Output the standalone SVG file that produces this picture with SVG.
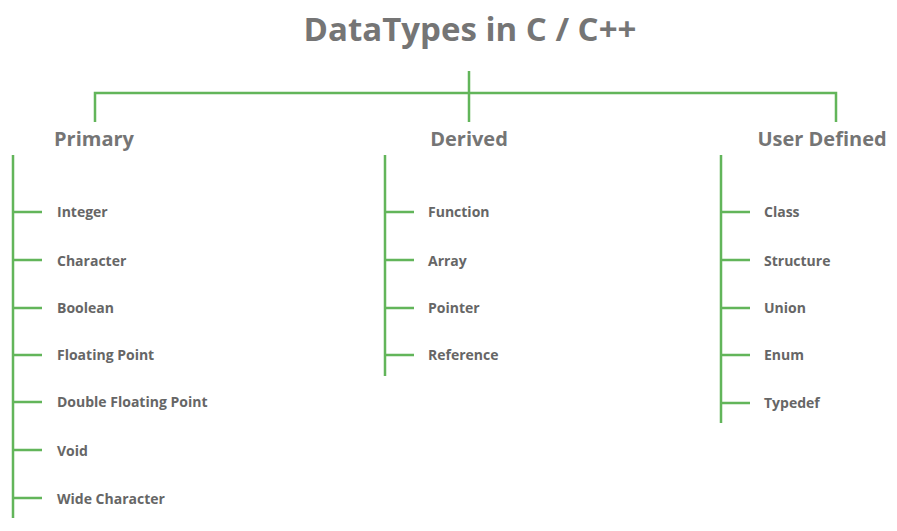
<svg xmlns="http://www.w3.org/2000/svg" width="897" height="531" viewBox="0 0 897 531">
<style>
.c{stroke:#62b55a;stroke-width:2.5;fill:none}
.t{font-family:"Open Sans","Noto Sans",sans-serif;font-weight:bold;fill:#757575}
.h{font-size:20px}
.i{font-size:14px;fill:#666}
</style>
<rect width="897" height="531" fill="#fff"/>
<text class="t" x="470" y="41" font-size="33" text-anchor="middle">DataTypes in C / C++</text>
<g id="connectors">
<path class="c" d="M469 71V93M95 122V93H836V122M469 93V122"/>
<path class="c" d="M13 155V518M13 212H42M13 260H42M13 308H42M13 355H42M13 402H42M13 450H42M13 498H42"/>
<path class="c" d="M385 155V376M385 212H414M385 260H414M385 308H414M385 355H414"/>
<path class="c" d="M721 155V423M721 212H750M721 260H750M721 308H750M721 355H750M721 403H750"/>
</g>
<g id="primary"><text class="t h" x="94" y="146" text-anchor="middle">Primary</text>
<text class="t i" x="57" y="217">Integer</text>
<text class="t i" x="57" y="266">Character</text>
<text class="t i" x="57" y="313">Boolean</text>
<text class="t i" x="57" y="360">Floating Point</text>
<text class="t i" x="57" y="407">Double Floating Point</text>
<text class="t i" x="57" y="456">Void</text>
<text class="t i" x="57" y="504">Wide Character</text></g>
<g id="derived"><text class="t h" x="469" y="146" text-anchor="middle">Derived</text>
<text class="t i" x="428" y="217">Function</text>
<text class="t i" x="428" y="266">Array</text>
<text class="t i" x="428" y="313">Pointer</text>
<text class="t i" x="428" y="360">Reference</text></g>
<g id="user"><text class="t h" x="822" y="146" text-anchor="middle">User Defined</text>
<text class="t i" x="764" y="217">Class</text>
<text class="t i" x="764" y="266">Structure</text>
<text class="t i" x="764" y="313">Union</text>
<text class="t i" x="764" y="360">Enum</text>
<text class="t i" x="764" y="408">Typedef</text></g>
</svg>
